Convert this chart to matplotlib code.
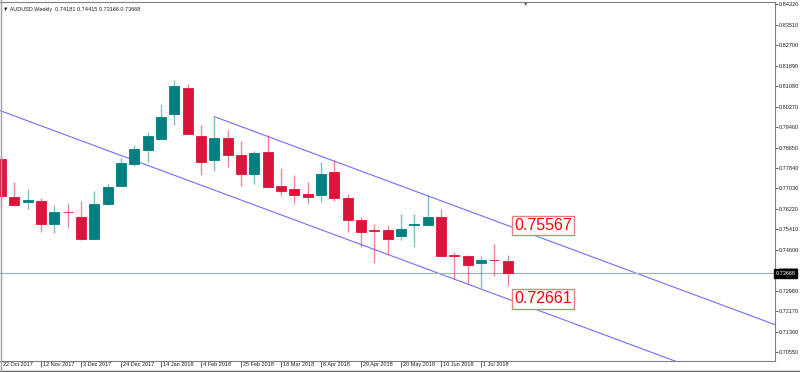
import numpy as np
import matplotlib
matplotlib.use("Agg")
import matplotlib.pyplot as plt
import matplotlib.transforms as mtrans
from matplotlib.patches import Rectangle

plt.rcParams['font.family'] = ['Liberation Sans Narrow', 'Liberation Sans', 'DejaVu Sans']

# weekly AUDUSD candles, first bar = week of 22 Oct 2017
opens = [0.78196, 0.76703, 0.76477, 0.76517, 0.75621, 0.76109, 0.75910, 0.75051, 0.76425, 0.77138,
         0.78010, 0.78553, 0.79000, 0.79990, 0.80993, 0.79119, 0.78141, 0.79040, 0.78366, 0.77602,
         0.78485, 0.77111, 0.77008, 0.76822, 0.76782, 0.77681, 0.76651, 0.75764, 0.75395, 0.75376,
         0.75170, 0.75582, 0.75605, 0.75898, 0.74377, 0.74353, 0.74076, 0.74207, 0.74181]
highs = [0.78327, 0.77285, 0.77008, 0.76651, 0.76374, 0.76437, 0.76544, 0.76940, 0.77206, 0.78236,
         0.78762, 0.79250, 0.80387, 0.81337, 0.81179, 0.79527, 0.79872, 0.79357, 0.78909, 0.78525,
         0.79131, 0.77840, 0.77574, 0.77269, 0.78077, 0.78168, 0.76822, 0.75922, 0.75633, 0.75605,
         0.76017, 0.76017, 0.76754, 0.76215, 0.74524, 0.74405, 0.74365, 0.74829, 0.74415]
lows = [0.76255, 0.76330, 0.76227, 0.75328, 0.75289, 0.75475, 0.74987, 0.75027, 0.76386, 0.77111,
        0.77903, 0.78061, 0.78972, 0.79527, 0.79171, 0.77562, 0.77721, 0.77879, 0.77111, 0.77218,
        0.77070, 0.76715, 0.76414, 0.76414, 0.76477, 0.76517, 0.75304, 0.74710, 0.74076, 0.74405,
        0.74979, 0.74734, 0.75582, 0.74353, 0.73443, 0.73245, 0.73086, 0.73585, 0.73166]
closes = [0.76742, 0.76358, 0.76572, 0.75621, 0.76109, 0.76081, 0.75051, 0.76414, 0.77099, 0.78022,
          0.78592, 0.79119, 0.79860, 0.81072, 0.79186, 0.78061, 0.79040, 0.78366, 0.77602, 0.78434,
          0.77087, 0.76913, 0.76754, 0.76691, 0.77614, 0.76651, 0.75780, 0.75328, 0.75344, 0.75027,
          0.75435, 0.75633, 0.75910, 0.74365, 0.74357, 0.74021, 0.74207, 0.74187, 0.73668]

date_labels = ['22 Oct 2017', '12 Nov 2017', '3 Dec 2017', '24 Dec 2017', '14 Jan 2018',
               '4 Feb 2018', '25 Feb 2018', '18 Mar 2018', '8 Apr 2018', '29 Apr 2018',
               '20 May 2018', '10 Jun 2018', '1 Jul 2018']
price_ticks = [0.70550, 0.71360, 0.72170, 0.72980, 0.73790, 0.74600, 0.75410, 0.76220,
               0.77030, 0.77840, 0.78650, 0.79460, 0.80270, 0.81080, 0.81890, 0.82700,
               0.83510, 0.84320]

# equidistant channel: upper line from the bar-16 high, values read at bar 38
chan_start = 16
chan_bar = 38
upper_val = 0.75567
lower_val = 0.72661
upper_start = 0.79872
last_price = 0.73668

up_col = '#008080'
dn_col = '#dc143c'
small = 4.0

fig = plt.figure(figsize=(8, 3.72), dpi=100)
ax = fig.add_axes([0, 11 / 372, 774.7 / 800, 359.5 / 372])

n = len(opens)
x = np.arange(n)
w = 0.75
for i in range(n):
    o, h, l, c = opens[i], highs[i], lows[i], closes[i]
    col = up_col if c > o else dn_col
    ax.plot([x[i], x[i]], [l, h], color=col, lw=1, alpha=0.5, zorder=2, solid_capstyle='butt')
    bot = min(o, c)
    ht = max(abs(c - o), 0.00025)
    ax.add_patch(Rectangle((x[i] - w / 2, bot), w, ht, facecolor=col,
                           edgecolor=col, lw=0.6, zorder=3))

slope = (upper_start - upper_val) / (chan_bar - chan_start)
xr = np.array([chan_start, 60])
ax.plot(xr, upper_val - slope * (xr - chan_bar), color='#7070ff', lw=0.8, zorder=1)
xl = np.array([-5, 60])
ax.plot(xl, lower_val - slope * (xl - chan_bar), color='#7070ff', lw=0.8, zorder=1)

ax.axhline(last_price, color='#a8b0b8', lw=0.9, zorder=1)

for val in [upper_val, lower_val]:
    ax.text(chan_bar + 0.48, val, f'{val:.5f}', color='#ff0000', fontsize=11.5,
            family=['Liberation Sans', 'DejaVu Sans'], ha='left', va='center', zorder=5,
            bbox=dict(boxstyle='square,pad=0.15', facecolor='white', edgecolor='#f08080', lw=1))

ax.set_xlim(-0.075, 58.03)
ax.set_ylim(0.70206, 0.84427)

ax.yaxis.tick_right()
ax.set_yticks(price_ticks)
ax.set_yticklabels([f'{p:.5f}' for p in price_ticks])
ax.tick_params(axis='y', length=2.5, width=0.6, color='#505050', labelsize=small, pad=0.6,
               labelcolor='#202020')

ax.set_xticks(np.arange(0, 39, 3))
ax.set_xticklabels(date_labels, ha='left')
ax.tick_params(axis='x', length=4, width=0.6, color='#505050', labelsize=small, pad=-3.5,
               labelcolor='#202020')
shift = mtrans.ScaledTranslation(2 / 100, 0, fig.dpi_scale_trans)
for lab in ax.get_xticklabels():
    lab.set_transform(lab.get_transform() + shift)

ax.spines['left'].set_visible(False)
for s in ['top', 'right', 'bottom']:
    ax.spines[s].set_color('#808080')
    ax.spines[s].set_linewidth(0.8)

# current price marker on the scale
ax.text(1.001, last_price, f'{last_price:.5f}', transform=ax.get_yaxis_transform(),
        color='white', fontsize=small, ha='left', va='center', zorder=6,
        bbox=dict(boxstyle='square,pad=0.3', facecolor='black', edgecolor='black'))

fig.text(3 / 800, 1 - 9 / 372, '\u25bc AUDUSD,Weekly  0.74181 0.74415 0.73166 0.73668',
         fontsize=small, color='#202020', va='center')
fig.text(526 / 800, 1 - 4 / 372, '\u25bc', fontsize=4, color='#506070', ha='center', va='center')

# outer frame lines
fig.add_artist(plt.Line2D([0, 1], [1.5 / 372, 1.5 / 372], color='#606060', lw=1))
fig.add_artist(plt.Line2D([0.5 / 800, 0.5 / 800], [0, 1], color='#a0a0a0', lw=1))

fig.savefig('out.png', dpi=100)
